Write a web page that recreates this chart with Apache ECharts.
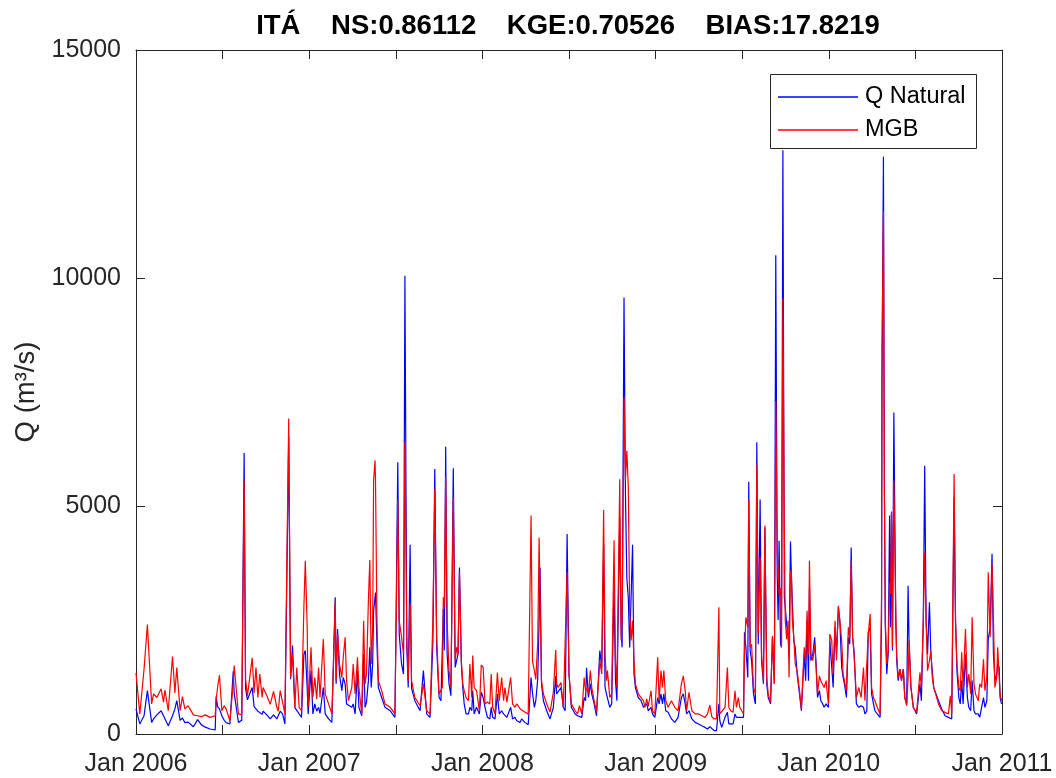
<!DOCTYPE html>
<html>
<head>
<meta charset="utf-8">
<script src="https://cdn.jsdelivr.net/npm/echarts@6/dist/echarts.min.js"></script>
<style>html,body{margin:0;padding:0;background:#fff}#c{width:1056px;height:778px}</style>
</head>
<body>
<div id="c"></div>
<script>
// Days since 1 Jan 2006
const days = [
0,8,17,24,33,37,44,53,58,61,68,77,82,86,93,98,103,110,121,130,138,146,156,167,169,172,176,181,186,190,198,205,207,216,223,228,231,235,245,249,253,257,261,266,268,276,283,290,297,300,
304,309,314,318,322,326,330,335,339,344,349,354,357,361,363,369,373,377,381,385,388,395,399,406,413,417,420,422,425,429,434,437,441,444,448,455,458,462,467,470,476,480,483,486,490,493,496,499,501,504,505,508,511,518,525,536,546,552,555,560,564,567,571,574,578,581,588,599,
606,613,620,626,630,634,639,643,646,648,650,653,656,660,664,669,673,676,679,682,686,689,692,696,701,704,708,710,713,718,724,728,732,736,741,746,749,752,757,762,766,771,775,778,782,785,790,794,799,803,810,813,820,827,833,836,840,843,847,850,852,855,859,866,873,876,880,885,887,890,896,901,905,909,913,
918,926,931,935,940,945,948,950,954,958,961,966,971,975,978,982,986,989,992,994,999,1003,1008,1011,1014,1020,1023,1025,1029,1032,1035,1038,1041,1044,1047,1050,1053,1059,1065,1070,1073,1077,1080,1086,1089,1094,1100,1103,1107,1110,1113,1117,1122,1129,1136,1143,1150,1154,1158,1161,1166,1172,1179,1186,1193,1200,1205,1210,1214,1219,
1224,1229,1231,1235,1242,1247,1250,1254,1259,1263,1266,1270,1273,1277,1281,1283,1286,1290,1292,1295,1298,1302,1306,1309,1312,1316,1319,1323,1326,1330,1333,1338,1342,1346,1349,1352,1354,1356,1359,1361,1364,1367,1369,1372,1375,1377,1380,1382,1384,1387,1390,1394,1399,1403,1409,1412,1415,1418,1420,1423,1427,1431,1434,1437,1441,1444,1448,1451,1455,1460,1463,1467,1470,1474,1477,1481,1484,1488,1491,1495,1498,1502,1505,1508,1511,1514,
1519,1524,1529,1534,1537,1541,1544,1548,1551,1555,1558,1563,1569,1572,1573,1576,1578,1580,1583,1586,1589,1591,1593,1595,1598,1602,1604,1607,1611,1614,1618,1621,1625,1628,1630,1634,1639,1646,1653,1656,1660,1663,1666,1669,1673,1676,1679,1682,1686,1692,1699,1706,1713,1717,1720,1722,1725,1728,1731,1735,1738,1741,1744,1749,1753,1756,1760,1763,1767,1770,1776,1779,1783,1787,1790,1794,1797,1801,1805,1808,1811,1815,1817,1820,1822,1825
];
const qNatural = [
550,220,400,950,255,330,420,510,400,440,180,400,550,730,300,350,250,260,160,315,200,150,110,88,820,600,550,400,300,250,220,1375,900,255,300,6160,1000,750,1020,600,580,500,510,430,500,420,330,420,330,330,
500,440,220,200,6500,1200,1940,580,620,440,365,1750,1830,1000,440,1390,440,660,500,585,450,1020,440,330,255,1830,3000,1100,2300,1315,950,1240,1100,660,620,585,660,440,1390,585,400,1750,585,700,1170,1900,1020,1535,2700,3000,3100,2000,1020,800,585,510,365,5960,2190,1530,1315,10050,1900,1020,4150,1000,730,510,
1390,440,365,2000,5810,1900,800,730,700,2740,1830,6300,1750,1100,840,5830,1460,1460,1750,3650,1535,1020,660,440,440,585,510,950,440,585,440,915,800,585,365,330,585,365,330,880,440,510,440,440,365,330,585,330,365,290,255,330,255,205,1240,900,585,730,1200,2485,3650,1100,730,510,330,365,585,1270,880,880,1020,585,510,4385,1315,
585,440,400,440,365,800,730,1450,800,1100,880,660,400,365,1830,1460,4165,1020,880,880,585,660,3200,1170,730,4750,2190,1900,9570,5260,3400,3000,1900,1870,4150,1315,1020,800,730,585,550,660,510,585,440,365,800,660,880,660,880,510,475,330,255,365,800,880,660,440,510,330,255,220,180,145,110,160,145,75,
73,660,290,145,365,475,220,255,220,440,365,400,365,365,365,2230,1900,1240,5530,1830,1610,880,660,6400,1970,5140,1610,1100,4530,1100,800,660,2120,1100,10500,3500,2500,4240,1970,1900,12800,3000,2780,2400,2120,1750,4220,3440,3400,2050,1900,1315,880,510,1750,1170,2485,1170,3200,1610,1750,2120,1535,800,950,730,660,585,660,585,2050,1460,1020,2340,1750,2780,2485,1460,1240,1020,800,2120,1970,4090,2120,1830,
660,585,620,585,440,510,2230,2340,880,660,510,440,365,2500,7690,12660,5340,2340,1315,1750,4790,2340,4860,1830,7050,2485,1610,1170,1425,1170,1425,800,660,3250,2050,1020,585,440,1100,730,2450,5880,2485,1750,2890,1750,1790,1020,1060,730,550,400,365,400,330,290,5180,2485,1390,800,660,1170,660,1750,800,585,510,1170,510,440,440,365,585,800,585,730,2080,2340,3950,1750,1170,1315,1535,1460,800,660
];
const mgb = [
1340,440,1425,2400,660,880,800,990,700,965,510,1700,900,1460,510,820,550,620,420,400,380,420,365,400,750,1020,1290,510,620,550,290,1100,1500,440,420,5555,1200,840,1670,900,1460,800,1315,800,1020,840,650,935,585,500,
950,700,440,400,6920,1240,1750,580,1460,585,510,2780,3800,2340,585,1900,800,1240,770,1460,800,2080,880,660,440,1750,2920,1170,2200,1535,1240,1680,2120,1170,730,1020,1535,880,1680,1020,440,2485,1100,1315,2920,3815,1535,2340,5560,6000,5560,2500,1170,950,660,585,440,5120,2485,2120,1750,6400,2120,1170,2850,1170,800,620,
1100,510,440,2485,5370,2120,880,840,1020,3000,2780,5640,2485,1390,1020,5190,1610,1900,1750,3545,1610,1100,950,800,730,1535,800,1720,1020,950,510,1515,1460,660,700,660,1315,585,440,1350,730,1240,730,1020,700,660,1240,660,585,660,550,585,480,440,4790,1600,1390,1200,2000,4310,3000,1170,880,660,480,440,915,1840,1100,1020,1130,585,550,3545,1315,
660,510,440,620,440,1240,950,1000,880,1390,1020,730,480,440,1610,1315,4910,1750,1170,1390,800,880,4250,1610,1020,5585,2050,2485,7380,5560,6210,5410,2630,2050,2485,1610,1100,880,800,730,585,770,600,950,510,440,1680,730,1390,1020,1390,730,585,730,585,510,1100,1275,950,510,915,510,440,440,400,365,440,635,380,330,
330,2780,440,400,585,1460,585,510,475,950,585,800,585,620,440,1750,2560,2340,5150,1900,1970,1020,880,5900,2190,3870,1750,1170,4570,1240,880,700,2150,1100,7300,4000,3650,3050,3200,1900,9550,4500,2485,2080,2485,1240,3580,3510,2485,2120,1535,1390,950,550,1900,1610,2700,1750,3800,1750,1610,1970,1460,880,1275,1170,1200,1020,1170,660,2190,2050,1315,2485,1610,2810,2485,2050,1315,1100,950,2340,2120,3800,2120,1750,
800,1020,800,1460,730,730,2190,2630,1020,800,730,585,440,3000,8450,11460,5340,2485,1535,1830,3300,3070,4880,1900,5560,2700,1750,1240,1425,1170,1425,800,620,1200,2050,1020,585,475,1350,1020,2485,3980,2485,1390,1610,1830,1240,1020,880,660,510,475,440,840,440,440,5700,2485,1535,1020,950,1790,1020,2300,1020,1315,880,2560,1100,880,730,1100,1020,1640,950,1240,3545,2120,3730,2485,1020,1240,1900,1240,880,730
];
const xTickLabels = ['Jan 2006','','Jan 2007','','Jan 2008','','Jan 2009','','Jan 2010','','Jan 2011'];
const seriesNames = ['Q Natural','MGB'];
const titleText = 'ITÁ    NS:0.86112    KGE:0.70526    BIAS:17.8219';
const yName = 'Q (m³/s)';

const FONT = '"Liberation Sans", Arial, Helvetica, sans-serif';
const AX = '#262626';
const halfYear = 182.6;
const chart = echarts.init(document.getElementById('c'), null, {renderer: 'canvas'});
const blue = days.map((d, i) => [d, qNatural[i]]);
const red = days.map((d, i) => [d, mgb[i]]);
function axLine() { return {show: true, onZero: false, lineStyle: {color: AX, width: 1}}; }
function axTick() { return {show: true, inside: true, length: 9, lineStyle: {color: AX, width: 1}}; }
chart.setOption({
  animation: false,
  backgroundColor: '#fff',
  grid: {left: 136, right: 54, top: 50, bottom: 44, containLabel: false},
  graphic: [
    {type: 'text', x: 568, y: 26, z: 10,
     style: {text: titleText, font: 'bold 27.5px ' + FONT, fill: '#000', textAlign: 'center', textVerticalAlign: 'middle'}},
    {type: 'rect', z: 3, shape: {x: 770.5, y: 74.5, width: 206, height: 74},
     style: {fill: '#fff', stroke: AX, lineWidth: 1}}
  ],
  legend: {
    data: seriesNames, orient: 'vertical', left: 773, top: 80, z: 5,
    icon: 'rect', itemWidth: 80, itemHeight: 1.5, itemGap: 9,
    textStyle: {fontFamily: FONT, fontSize: 23.5, color: '#000', padding: [0, 0, 0, 2]}
  },
  xAxis: [
    {type: 'value', min: 0, max: 1826, interval: halfYear, position: 'bottom',
      axisLine: axLine(), axisTick: axTick(), splitLine: {show: false},
      axisLabel: {show: true, color: AX, fontFamily: FONT, fontSize: 25, margin: 18,
        showMinLabel: true, showMaxLabel: true,
        formatter: v => xTickLabels[Math.round(v / halfYear)] || ''}},
    {type: 'value', min: 0, max: 1826, interval: halfYear, position: 'top',
      axisLine: axLine(), axisTick: axTick(), splitLine: {show: false},
      axisLabel: {show: false}}
  ],
  yAxis: [
    {type: 'value', min: 0, max: 15000, interval: 5000, position: 'left',
      name: yName, nameLocation: 'middle', nameRotate: 90, nameGap: 92,
      nameTextStyle: {fontFamily: FONT, fontSize: 27.5, color: AX},
      axisLine: axLine(), axisTick: axTick(), splitLine: {show: false},
      axisLabel: {show: true, color: AX, fontFamily: FONT, fontSize: 25, margin: 15,
        formatter: v => String(v)}},
    {type: 'value', min: 0, max: 15000, interval: 5000, position: 'right',
      axisLine: axLine(), axisTick: axTick(), splitLine: {show: false},
      axisLabel: {show: false}}
  ],
  series: [
    {name: seriesNames[0], type: 'line', data: blue, showSymbol: false, symbol: 'none',
     sampling: null, lineStyle: {color: '#0000FF', width: 1.2}, itemStyle: {color: '#0000FF'}, z: 2},
    {name: seriesNames[1], type: 'line', data: red, showSymbol: false, symbol: 'none',
     sampling: null, lineStyle: {color: '#FF0000', width: 1.2}, itemStyle: {color: '#FF0000'}, z: 2}
  ]
});
</script>
</body>
</html>
